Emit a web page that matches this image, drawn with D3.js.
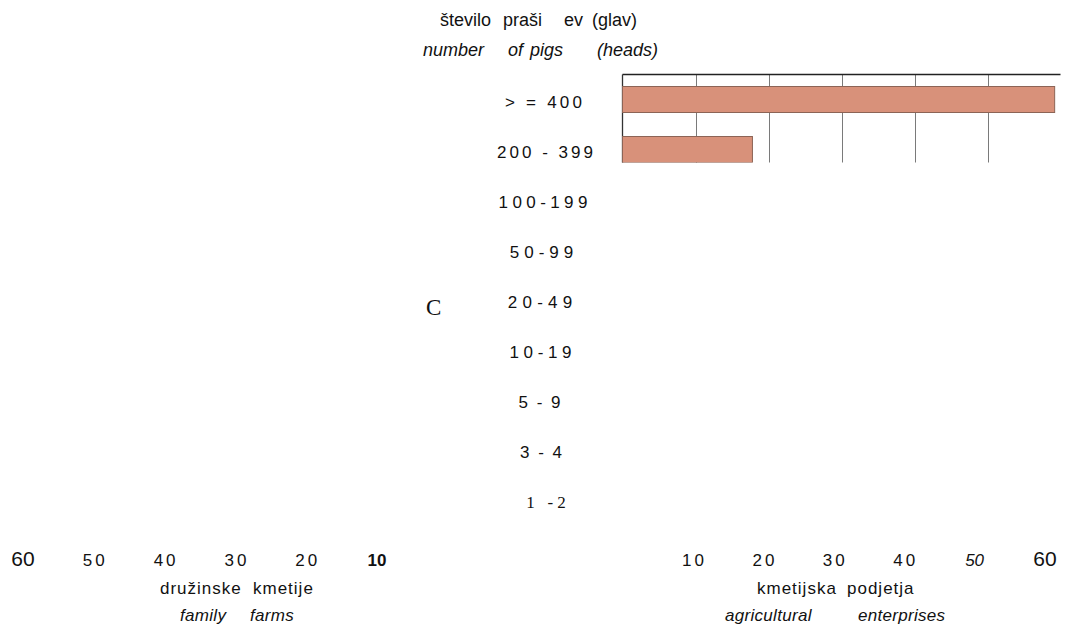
<!DOCTYPE html>
<html><head><meta charset="utf-8">
<script src="https://cdn.jsdelivr.net/npm/d3@7"></script>
<style>
body{margin:0;background:#fff;}
svg text{white-space:pre;font-family:"Liberation Sans",Arial,sans-serif;fill:#111;}
</style></head>
<body>
<svg id="c" width="1079" height="626"></svg>
<script>
// ---- data ----
const categories = ["> = 400","200 - 399","100-199","50-99","20-49","10-19","5 - 9","3 - 4","1   - 2"];
const enterprises = [59.2, 17.8, null, null, null, null, null, null, null];
const familyFarms = [null, null, null, null, null, null, null, null, null];
const gridTicks = [10, 20, 30, 40, 50];
const leftTickLabels = [60, 50, 40, 30, 20, 10];
const rightTickLabels = [10, 20, 30, 40, 50, 60];

// ---- styles (not data) ----
const catSpacing = [3.2, 3.0, 4.4, 5.0, 5.2, 4.6, 2.0, 2.0, 0];
const catCenter = [543.5, 545, 543, 541.5, 540, 540.5, 539.5, 541, 546];

const svg = d3.select("#c");

const y = d3.scalePoint().domain(categories).range([99.5, 499.5]);
const xR = d3.scaleLinear().domain([0, 60]).range([622.5, 1060.5]);
const xRLab = d3.scaleLinear().domain([10, 60]).range([693, 1045]);
const xLLab = d3.scaleLinear().domain([10, 60]).range([377, 23]);
const barH = 26;
const plotTop = 74.5, plotBottom = 162.5;

svg.append("g").selectAll("line").data(gridTicks).join("line")
  .attr("x1", d => Math.round(xR(d)) + 0.5).attr("x2", d => Math.round(xR(d)) + 0.5)
  .attr("y1", plotTop).attr("y2", plotBottom)
  .attr("stroke", "#7a7a7a").attr("stroke-width", 1);

svg.append("line").attr("x1", xR(0)).attr("x2", xR(60)).attr("y1", plotTop).attr("y2", plotTop)
  .attr("stroke", "#222").attr("stroke-width", 1.3);
svg.append("line").attr("x1", xR(0)).attr("x2", xR(0)).attr("y1", plotTop).attr("y2", plotBottom)
  .attr("stroke", "#333").attr("stroke-width", 1.3);

svg.append("clipPath").attr("id", "clip").append("rect")
  .attr("x", 0).attr("y", plotTop).attr("width", 1079).attr("height", plotBottom - plotTop);
const rows = categories.map((c, i) => ({c, v: enterprises[i]})).filter(d => d.v != null);
svg.append("g").attr("clip-path", "url(#clip)").selectAll("rect").data(rows).join("rect")
  .attr("x", xR(0)).attr("y", d => y(d.c) - barH / 2)
  .attr("width", d => xR(d.v) - xR(0)).attr("height", barH)
  .attr("fill", "#d8917a").attr("stroke", "#8c6456").attr("stroke-width", 1);

// titles (words placed individually to keep the wide gaps)
const t1 = [["število", 440], ["praši", 503], ["ev", 564], ["(glav)", 592]];
const t2 = [["number", 423], ["of", 508], ["pigs", 530], ["(heads)", 597]];
svg.append("g").selectAll("text").data(t1).join("text")
  .attr("x", d => d[1]).attr("y", 26).attr("font-size", 18).text(d => d[0]);
svg.append("g").selectAll("text").data(t2).join("text")
  .attr("x", d => d[1]).attr("y", 56).attr("font-size", 18).attr("font-style", "italic").text(d => d[0]);

svg.append("g").selectAll("text").data(categories).join("text")
  .attr("x", (d, i) => catCenter[i] + catSpacing[i] / 2).attr("y", d => y(d) + 8.5)
  .attr("text-anchor", "middle")
  .attr("font-size", 17)
  .attr("letter-spacing", (d, i) => catSpacing[i])
  .style("font-family", (d, i) => i === 8 ? "'Liberation Serif', serif" : null)
  .text(d => d);

svg.append("text").attr("x", 426).attr("y", 315).attr("font-size", 23)
  .style("font-family", "'Liberation Serif', serif").text("C");

svg.append("g").selectAll("text").data(leftTickLabels).join("text")
  .attr("x", d => xLLab(d) + ((d === 60 || d === 10) ? 0 : 1.5)).attr("y", 566).attr("text-anchor", "middle")
  .attr("font-size", d => d === 60 ? 21 : 17)
  .attr("letter-spacing", d => (d === 60 || d === 10) ? 0 : 3)
  .attr("font-weight", d => d === 10 ? "bold" : null)
  .text(d => d);

svg.append("g").selectAll("text").data(rightTickLabels).join("text")
  .attr("x", d => xRLab(d) + ((d === 60 || d === 50) ? 0 : 1.5)).attr("y", 566).attr("text-anchor", "middle")
  .attr("font-size", d => d === 60 ? 21 : 17)
  .attr("letter-spacing", d => (d === 60 || d === 50) ? 0 : 3)
  .attr("font-style", d => d === 50 ? "italic" : null)
  .text(d => d);

const b1 = [["družinske", 160], ["kmetije", 253]];
const b2 = [["family", 180], ["farms", 250]];
const b3 = [["kmetijska", 757], ["podjetja", 847]];
const b4 = [["agricultural", 725], ["enterprises", 858]];
[[b1, 594, null], [b2, 621, "italic"], [b3, 594, null], [b4, 621, "italic"]].forEach(([words, yy, st]) => {
  svg.append("g").selectAll("text").data(words).join("text")
    .attr("x", d => d[1]).attr("y", yy).attr("font-size", 17)
    .attr("letter-spacing", st ? 0.3 : 1)
    .attr("font-style", st).text(d => d[0]);
});
</script>
</body></html>
